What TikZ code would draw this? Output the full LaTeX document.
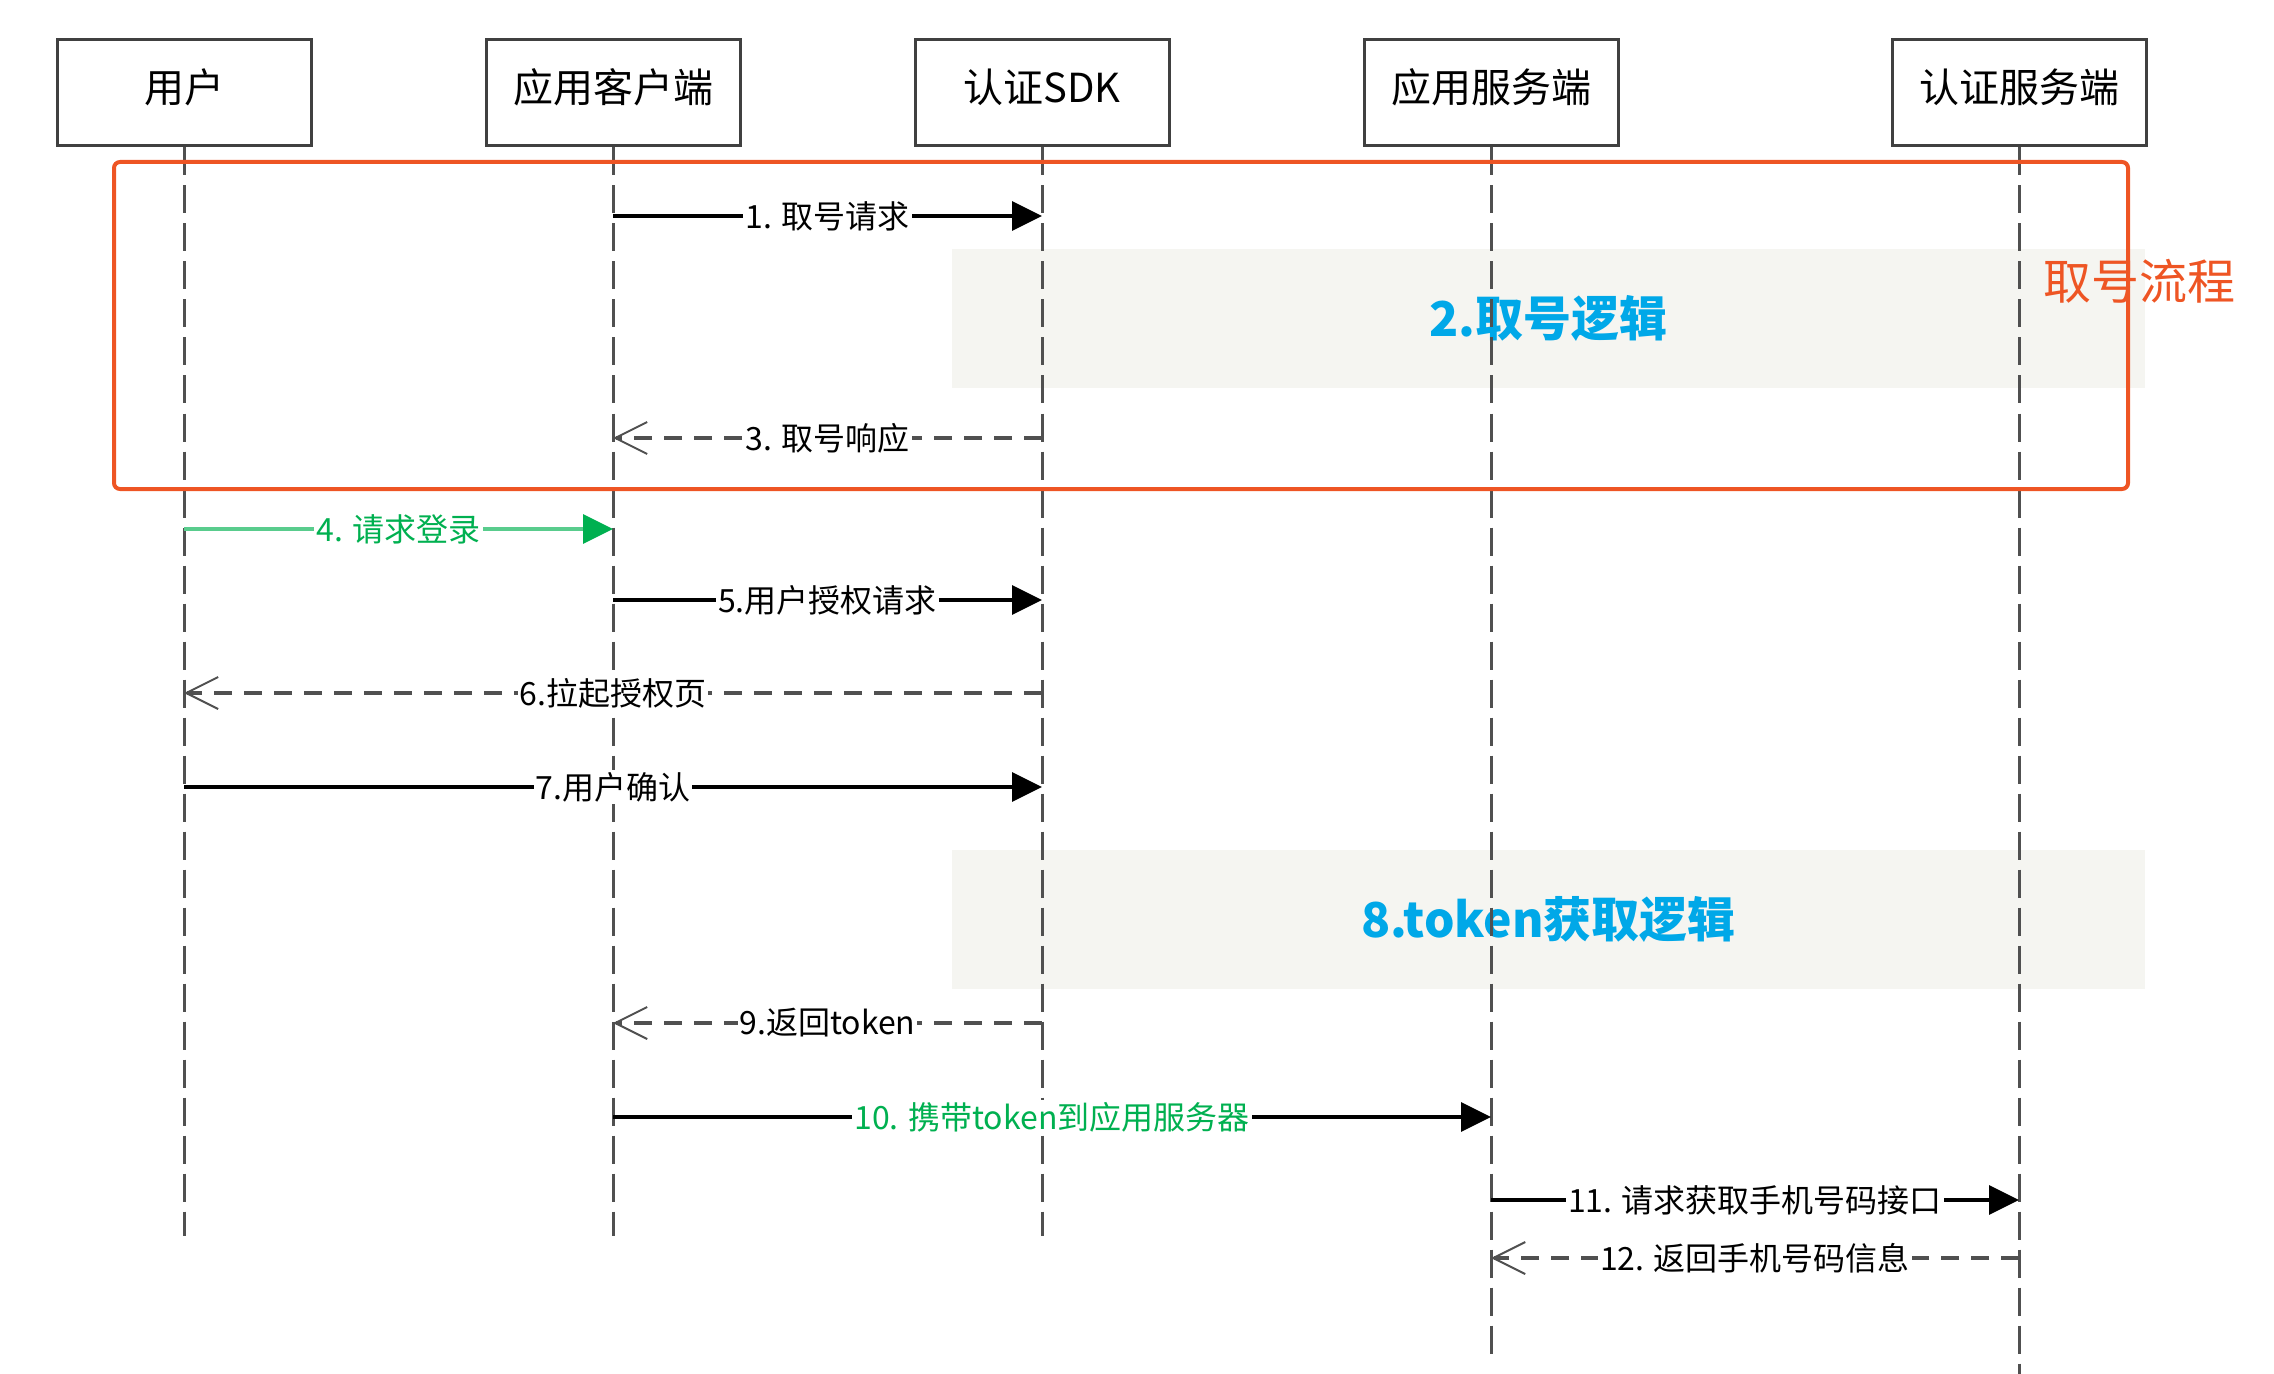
\documentclass[tikz,border=0pt]{standalone}
\usepackage{fontspec}
\setmainfont{Noto Sans CJK SC}
\usetikzlibrary{arrows.meta}
\definecolor{frameorange}{RGB}{238,85,36}
\definecolor{logicblue}{RGB}{0,168,232}
\definecolor{msggreen}{RGB}{0,176,80}
\definecolor{logicgray}{RGB}{245,245,241}
\definecolor{linegray}{RGB}{80,80,80}

\begin{document}
\begin{tikzpicture}[x=0.5pt, y=-0.5pt,
	party/.style = {draw=black!75, line width=1.5pt, fill=white, minimum width=127pt, minimum height=53pt, text height=15pt, text depth=5pt, font=\fontsize{20}{24}\selectfont},
	life/.style = {draw=linegray, line width=1.5pt, dash pattern=on 14pt off 5pt},
	call/.style = {line width=1.6pt, -{Triangle[length=15pt, width=14.5pt]}},
	back/.style = {draw=linegray, line width=1.6pt, dash pattern=on 9pt off 6pt, -{Straight Barb[length=16pt, width=16pt, line width=1pt]}},
	lbl/.style = {fill=white, inner sep=1pt, font=\fontsize{16}{18}\selectfont},
	logic/.style = {fill=logicgray, minimum width=596.5pt, minimum height=69.5pt, text=logicblue, font=\fontsize{24}{28}\selectfont\bfseries}]
	\useasboundingbox (0,0) rectangle (2274,1374);
	% shaded logic blocks
	\node [logic] (numlogic) at (1548.5,318.5) {2.取号逻辑};
	\node [logic] (toklogic) at (1548.5,919) {8.token获取逻辑};
	% participants
	\node [party] (user) at (184,93) {用户};
	\node [party] (cli) at (613,93) {应用客户端};
	\node [party] (sdk) at (1042,93) {认证SDK};
	\node [party] (aps) at (1491,93) {应用服务端};
	\node [party] (aus) at (2019,93) {认证服务端};
	% lifelines
	\foreach \n/\e in {user/1236, cli/1236, sdk/1236, aps/1356, aus/1374}
	\draw [life] (\n.south) -- (\n.south |- 0,\e);
	% messages
	\foreach \y/\a/\b/\t in {216/cli/sdk/1. 取号请求, 600/cli/sdk/5.用户授权请求, 787/user/sdk/7.用户确认, 1200/aps/aus/11. 请求获取手机号码接口}
	\draw [call] (\a |- 0,\y) -- node [lbl] {\t} (\b |- 0,\y);
	\foreach \y/\a/\b/\t in {438/sdk/cli/3. 取号响应, 693/sdk/user/6.拉起授权页, 1023/sdk/cli/9.返回token, 1258/aus/aps/12. 返回手机号码信息}
	\draw [back] (\a |- 0,\y) -- node [lbl, text=black] {\t} (\b |- 0,\y);
	\draw [call, draw=msggreen!65, -{Triangle[length=15pt, width=14.5pt, color=msggreen]}] (user |- 0,529) -- node [lbl, text=msggreen] {4. 请求登录} (cli |- 0,529);
	\draw [call] (cli |- 0,1117) -- node [lbl, text=msggreen] {10. 携带token到应用服务器} (aps |- 0,1117);
	% number flow frame
	\draw [frameorange, line width=2pt, rounded corners=3pt] (114,162) rectangle (2128,489);
	\node [text=frameorange, font=\fontsize{24}{28}\selectfont] (flowlbl) at (2139,281) {取号流程};
\end{tikzpicture}
\end{document}
